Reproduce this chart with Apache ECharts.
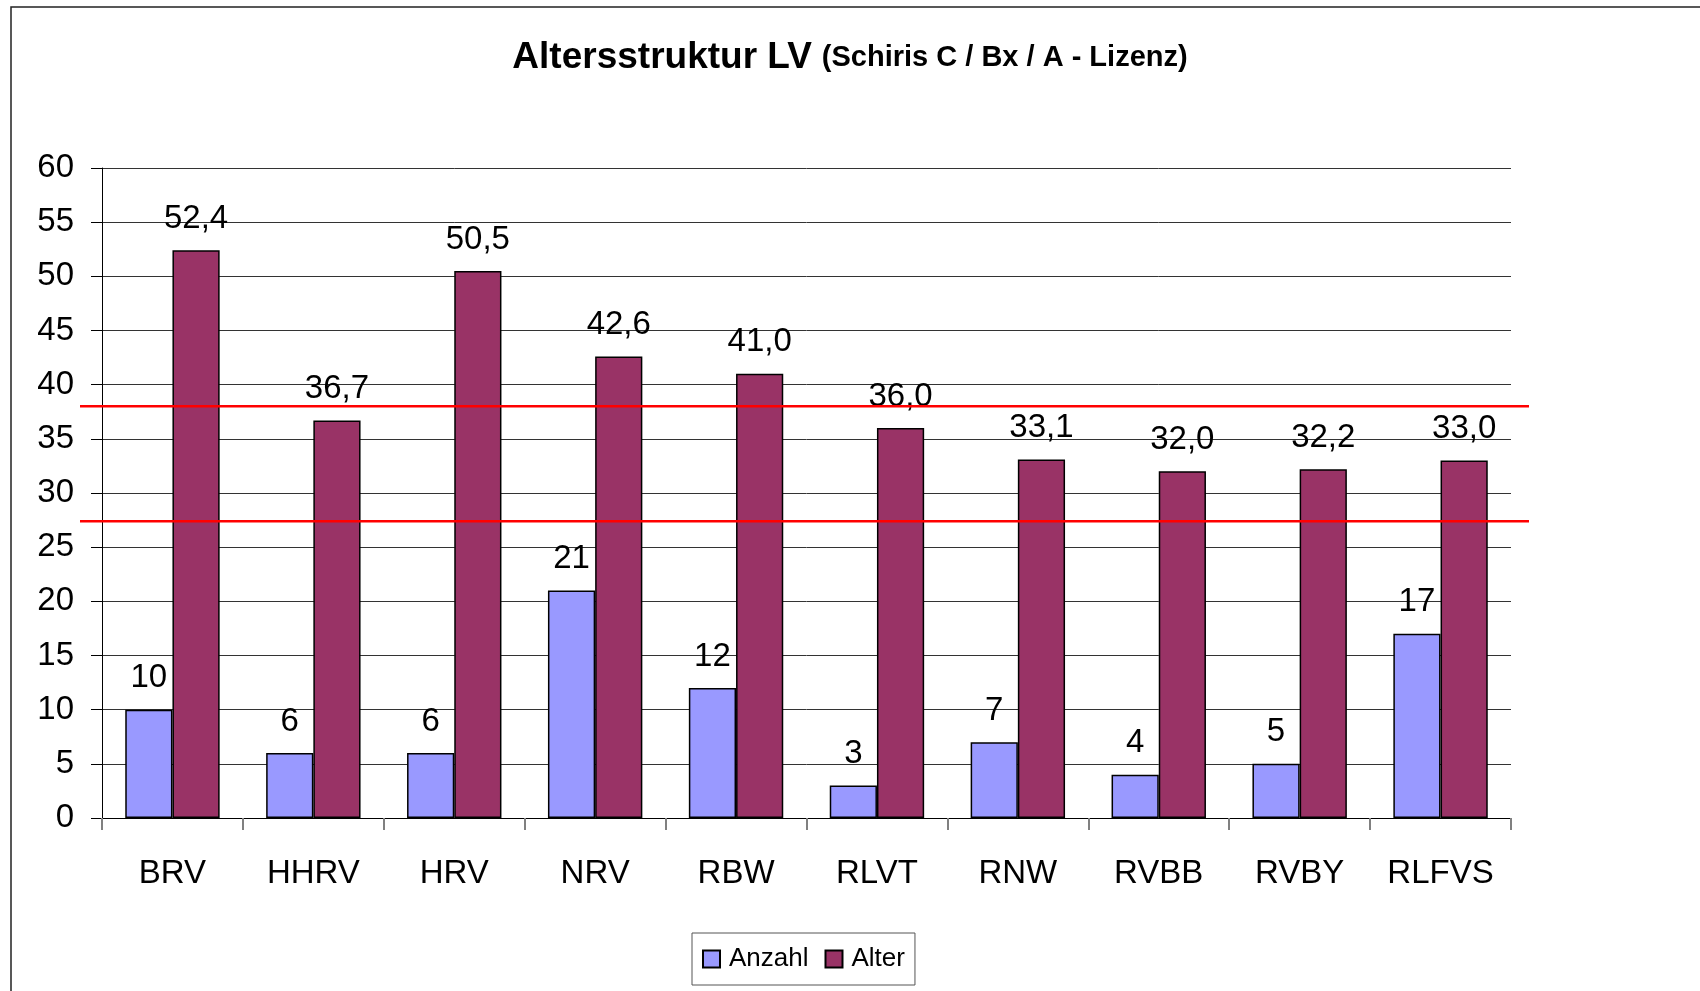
<!DOCTYPE html>
<html>
<head>
<meta charset="utf-8">
<script src="https://cdn.jsdelivr.net/npm/echarts@6/dist/echarts.min.js"></script>
<style>
  html, body { margin: 0; padding: 0; background: #fff; }
  #chart { width: 1700px; height: 991px; }
</style>
</head>
<body>
<div id="chart"></div>
<script>
const categories = ['BRV', 'HHRV', 'HRV', 'NRV', 'RBW', 'RLVT', 'RNW', 'RVBB', 'RVBY', 'RLFVS'];
const anzahl = [10, 6, 6, 21, 12, 3, 7, 4, 5, 17];
const alter = [52.4, 36.7, 50.5, 42.6, 41.0, 36.0, 33.1, 32.0, 32.2, 33.0];
// red reference lines (age band)
const bandLines = [38, 27.4];

const font = 'Liberation Sans, Arial, sans-serif';
const chart = echarts.init(document.getElementById('chart'));

const option = {
  animation: false,
  textStyle: { fontFamily: font },
  title: {
    left: 'center',
    top: 34,
    text: '{a|Altersstruktur LV}  {b|(Schiris C / Bx / A - Lizenz)}',
    textStyle: {
      rich: {
        a: { fontSize: 37, fontWeight: 'bold', color: '#000', fontFamily: font },
        b: { fontSize: 29, fontWeight: 'bold', color: '#000', fontFamily: font }
      }
    }
  },
  legend: {
    left: 692,
    top: 933,
    padding: [13, 10, 13, 10],
    borderColor: '#555',
    borderWidth: 1,
    icon: 'rect',
    itemWidth: 17,
    itemHeight: 17,
    itemGap: 16,
    textStyle: { fontSize: 26, color: '#000', fontFamily: font, padding: [0, 0, 0, 4] },
    data: ['Anzahl', 'Alter']
  },
  grid: { left: 102, right: 189, top: 168, bottom: 173 },
  xAxis: {
    type: 'category',
    data: categories,
    axisLine: { lineStyle: { color: '#000', width: 1 } },
    axisTick: { show: true, interval: 0, length: 12, lineStyle: { color: '#808080', width: 2 } },
    axisLabel: { fontSize: 33, color: '#000', margin: 39, fontFamily: font }
  },
  yAxis: {
    type: 'value',
    min: 0,
    max: 60,
    interval: 5,
    axisLine: { show: true, lineStyle: { color: '#000', width: 1 } },
    axisTick: { show: true, length: 11, lineStyle: { color: '#000' } },
    axisLabel: { fontSize: 33, color: '#000', margin: 28, fontFamily: font },
    splitLine: { lineStyle: { color: '#333', width: 1 } }
  },
  series: [
    {
      name: 'Anzahl',
      type: 'bar',
      data: anzahl,
      barGap: 0,
      barCategoryGap: '33%',
      itemStyle: { color: '#9999FF', borderColor: '#000', borderWidth: 1.5 },
      label: {
        show: true, position: 'top', distance: 15,
        fontSize: 33, color: '#000', fontFamily: font
      }
    },
    {
      name: 'Alter',
      type: 'bar',
      data: alter,
      itemStyle: { color: '#993366', borderColor: '#000', borderWidth: 1.5 },
      label: {
        show: true, position: 'top', distance: 15,
        fontSize: 33, color: '#000', fontFamily: font,
        formatter: p => p.value.toFixed(1).replace('.', ',')
      }
    }
  ]
};

chart.setOption(option);

// frame and red band lines (lines extend a bit past the plot area)
const graphics = [{
  type: 'rect',
  shape: { x: 11, y: 7, width: 1720, height: 1020 },
  style: { fill: 'none', stroke: '#222', lineWidth: 1.5 },
  silent: true
}];
bandLines.forEach(v => {
  const y = chart.convertToPixel({ yAxisIndex: 0 }, v);
  graphics.push({
    type: 'line',
    shape: { x1: 80, y1: y, x2: 1529, y2: y },
    style: { stroke: '#ff0000', lineWidth: 2.5 },
    z: 100
  });
});
chart.setOption({ graphic: graphics });
</script>
</body>
</html>
